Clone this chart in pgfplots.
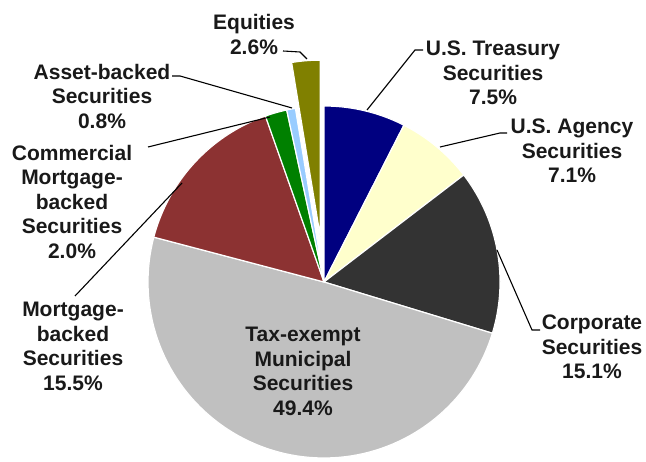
\documentclass[border=0pt]{standalone}
\usepackage{fontspec}
\setmainfont{Liberation Sans}
\usepackage{pgfplots}
\pgfplotsset{compat=1.18}
\definecolor{cTre}{RGB}{0,0,128}
\definecolor{cAge}{RGB}{255,255,204}
\definecolor{cCor}{RGB}{51,51,51}
\definecolor{cTax}{RGB}{192,192,192}
\definecolor{cMbs}{RGB}{140,50,50}
\definecolor{cCmb}{RGB}{0,128,0}
\definecolor{cAbs}{RGB}{153,204,255}
\definecolor{cEqu}{RGB}{128,128,0}
\tikzset{lbl/.style={font=\fontsize{21bp}{24.5bp}\selectfont\bfseries, align=center, inner sep=0pt, text=black!90}}
% slice: #1 percent, #2 colour, #3 explode distance
\def\cum{0}
\newcommand\slice[3]{%
  \pgfmathsetmacro\sa{90-3.6*\cum}%
  \pgfmathsetmacro\ea{90-3.6*(\cum+#1)}%
  \pgfmathsetmacro\ma{90-3.6*(\cum+#1/2)}%
  \pgfmathsetmacro\cx{324+#3*cos(\ma)}%
  \pgfmathsetmacro\cy{180+#3*sin(\ma)}%
  \pgfmathsetmacro\tmp{\cum+#1}\xdef\cum{\tmp}%
  \edef\doslice{\noexpand\addplot[fill=#2, draw=white, line width=1.2pt, domain=\ea:\sa, samples=90]
    ({\cx+176*cos(\noexpand\x)}, {\cy+176*sin(\noexpand\x)}) -- (\cx,\cy) -- cycle;}%
  \doslice
}
\begin{document}
\begin{tikzpicture}
\begin{axis}[width=646bp, height=462bp, scale only axis,
  xmin=0, xmax=646, ymin=0, ymax=462, axis lines=none, clip=false]
\path (0,0) rectangle (646,462);
\slice{7.5}{cTre}{0}
\slice{7.1}{cAge}{0}
\slice{15.1}{cCor}{0}
\slice{49.4}{cTax}{0}
\slice{15.5}{cMbs}{0}
\slice{2.0}{cCmb}{0}
\slice{0.8}{cAbs}{0}
\slice{2.6}{cEqu}{46}
% leader lines
\draw[line width=1.1pt] (283,411) -- (300,410) -- (307,403);
\draw[line width=1.1pt] (172,386) -- (180,386) -- (292,354);
\draw[line width=1.1pt] (148,315) -- (270,345);
\draw[line width=1.1pt] (75,166) -- (182,279);
\draw[line width=1.1pt] (423,412) -- (415,412) -- (367,352);
\draw[line width=1.1pt] (507,329) -- (500,329) -- (440,315);
\draw[line width=1.1pt] (540,132) -- (532,132) -- (497,212);
% labels
\node[lbl] at (254,427.5) {Equities\\2.6\%};
\node[lbl] at (102,366) {Asset-backed\\Securities\\0.8\%};
\node[lbl] at (72,260.5) {Commercial\\Mortgage-\\backed\\Securities\\2.0\%};
\node[lbl] at (73,115.5) {Mortgage-\\backed\\Securities\\15.5\%};
\node[lbl] at (493,389) {U.S. Treasury\\Securities\\7.5\%};
\node[lbl] at (572,311) {U.S. Agency\\Securities\\7.1\%};
\node[lbl] at (592,115) {Corporate\\Securities\\15.1\%};
\node[lbl] at (303,90.5) {Tax-exempt\\Municipal\\Securities\\49.4\%};
\end{axis}
\pgfresetboundingbox
\useasboundingbox (current axis.south west) rectangle (current axis.north east);
\end{tikzpicture}
\end{document}
